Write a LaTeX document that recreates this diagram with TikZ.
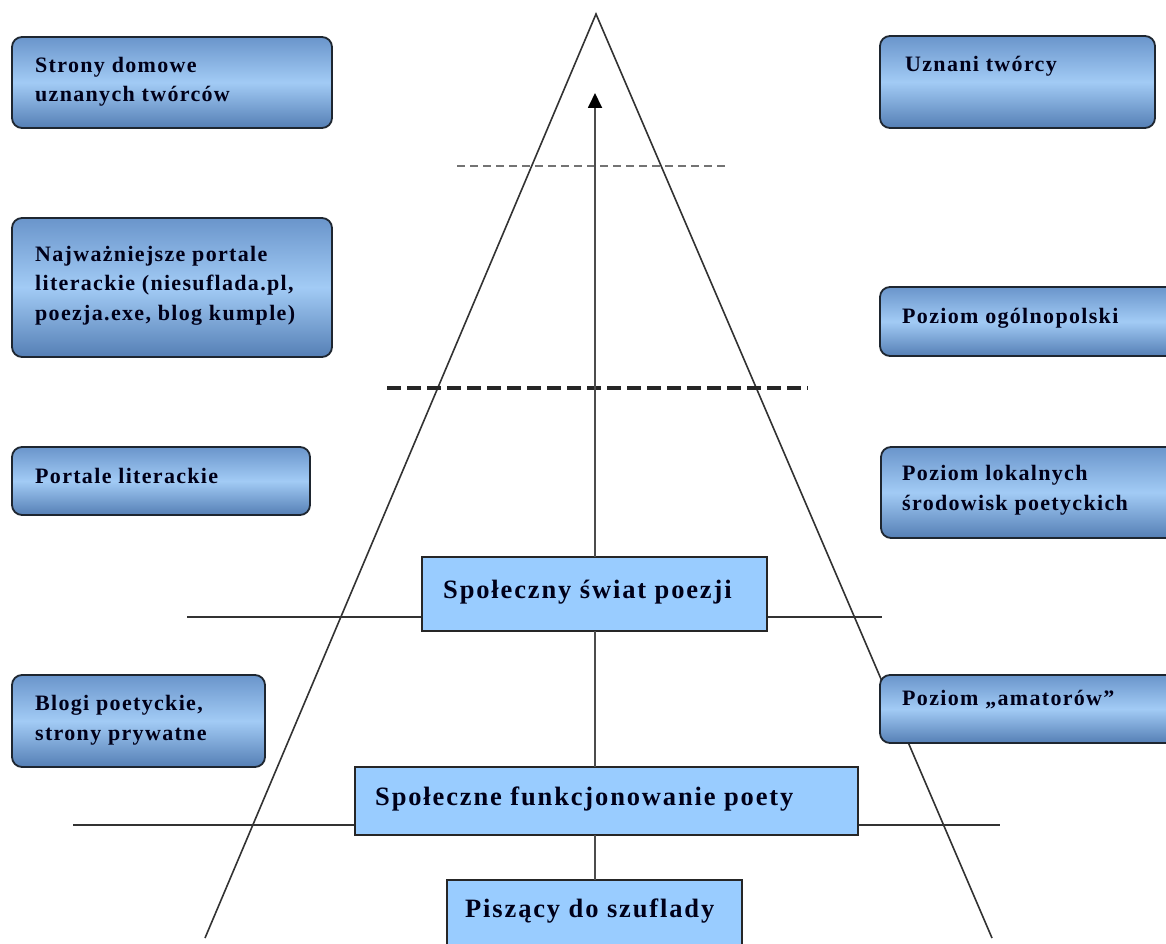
\documentclass[tikz,border=0pt]{standalone}
\usepackage{fontspec}
\setmainfont{Liberation Serif}
\newfontfamily\boxfont[LetterSpace=6]{Liberation Serif}
\newfontfamily\levelfont[LetterSpace=7]{Liberation Serif}
\usetikzlibrary{arrows.meta}
\definecolor{boxtop}{HTML}{6A95CB}
\definecolor{boxmid}{HTML}{A2CBF5}
\definecolor{boxbot}{HTML}{557FB5}
\definecolor{boxline}{HTML}{1E2630}
\definecolor{levelfill}{HTML}{99CCFF}
\definecolor{linegray}{HTML}{333333}
\begin{document}
\begin{tikzpicture}[x=1pt,y=-1pt,
  sidebox/.style={draw=boxline, line width=1.8pt, rounded corners=10pt,
    top color=boxtop, bottom color=boxbot, middle color=boxmid,
    anchor=north west, inner sep=0pt, outer sep=0pt},
  sidetext/.style={anchor=base west, inner sep=0pt, align=left,
    font=\boxfont\bfseries\fontsize{22}{29.5}\selectfont, text=black!90!blue},
  levelbox/.style={draw=black!85, line width=1.5pt, fill=levelfill,
    anchor=north west, inner sep=0pt, outer sep=0pt},
  leveltext/.style={anchor=base west, inner sep=0pt,
    font=\levelfont\bfseries\fontsize{26.5}{30}\selectfont, text=black!90!blue},
  pyr/.style={draw=linegray, line width=1.6pt},
  axis/.style={draw=black!70, line width=1.8pt}
]
\useasboundingbox (0,0) rectangle (1166,944);
\clip (0,0) rectangle (1166,944);

% pyramid
\coordinate (apex) at (596,14);
\coordinate (bl) at (205,938);
\coordinate (br) at (992,938);
\draw[pyr] (bl) -- (apex) -- (br);

% dashed level lines
\coordinate (d1a) at (457,166); \coordinate (d1b) at (726,166);
\draw[draw=black!55, line width=2pt, dash pattern=on 8pt off 5pt] (d1a) -- (d1b);
\coordinate (d2a) at (387,388); \coordinate (d2b) at (808,388);
\draw[draw=black!85, line width=3.5pt, dash pattern=on 14pt off 6pt] (d2a) -- (d2b);

% solid level lines
\coordinate (h1a) at (187,617); \coordinate (h1b) at (882,617);
\draw[pyr] (h1a) -- (h1b);
\coordinate (h2a) at (73,825); \coordinate (h2b) at (1000,825);
\draw[pyr] (h2a) -- (h2b);

% central level boxes
\node[levelbox, minimum width=345pt, minimum height=74pt] (c1) at (422,557) {};
\node[levelbox, minimum width=503pt, minimum height=68pt] (c2) at (355,767) {};
\node[levelbox, minimum width=295pt, minimum height=80pt] (c3) at (447,880) {};

% vertical axis
\coordinate (tip) at (595,93);
\draw[axis] (c3.north -| tip) -- (c2.south -| tip);
\draw[axis] (c2.north -| tip) -- (c1.south -| tip);
\draw[axis, -{Triangle[length=15pt,width=14pt,color=black]}] (c1.north -| tip) -- (tip);

\node[leveltext] (c1t) at ([shift={(21,41)}]c1.north west) {Społeczny świat poezji};
\node[leveltext] (c2t) at ([shift={(20,38)}]c2.north west) {Społeczne funkcjonowanie poety};
\node[leveltext] (c3t) at ([shift={(18,37)}]c3.north west) {Piszący do szuflady};

% left side boxes (anchor = baseline of last line)
\node[sidebox, minimum width=320pt, minimum height=91pt] (b1) at (12,37) {};
\node[sidetext] (b1t) at ([shift={(23,65)}]b1.north west) {Strony domowe\\uznanych twórców};
\node[sidebox, minimum width=320pt, minimum height=139pt] (b3) at (12,218) {};
\node[sidetext] (b3t) at ([shift={(23,102)}]b3.north west) {Najważniejsze portale\\literackie (niesuflada.pl,\\poezja.exe, blog kumple)};
\node[sidebox, minimum width=298pt, minimum height=68pt] (b5) at (12,447) {};
\node[sidetext] (b5t) at ([shift={(23,36)}]b5.north west) {Portale literackie};
\node[sidebox, minimum width=253pt, minimum height=92pt] (b7) at (12,675) {};
\node[sidetext] (b7t) at ([shift={(23,65)}]b7.north west) {Blogi poetyckie,\\strony prywatne};

% right side boxes
\node[sidebox, minimum width=275pt, minimum height=92pt] (b2) at (880,36) {};
\node[sidetext] (b2t) at ([shift={(25,36)}]b2.north west) {Uznani twórcy};
\node[sidebox, minimum width=300pt, minimum height=69pt] (b4) at (880,287) {};
\node[sidetext] (b4t) at ([shift={(22,36)}]b4.north west) {Poziom ogólnopolski};
\node[sidebox, minimum width=300pt, minimum height=91pt] (b6) at (881,447) {};
\node[sidetext] (b6t) at ([shift={(21,63)}]b6.north west) {Poziom lokalnych\\środowisk poetyckich};
\node[sidebox, minimum width=300pt, minimum height=68pt] (b8) at (880,675) {};
\node[sidetext] (b8t) at ([shift={(22,30)}]b8.north west) {Poziom „amatorów”};
\end{tikzpicture}
\end{document}
